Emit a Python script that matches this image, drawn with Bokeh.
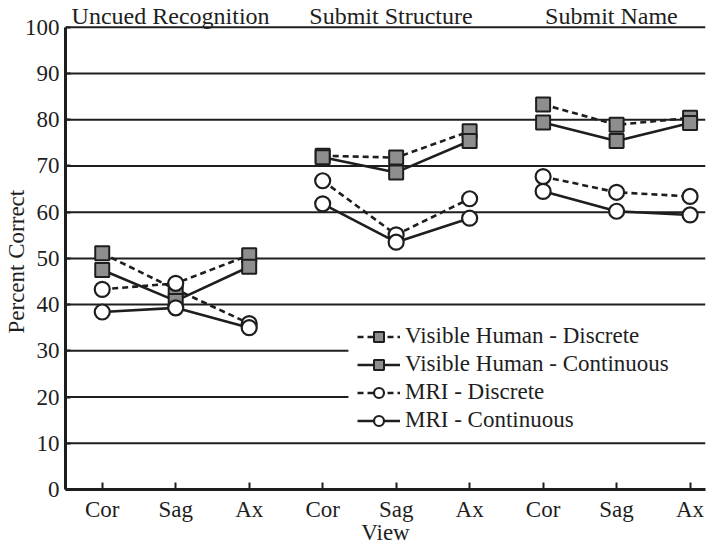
from bokeh.plotting import figure
from bokeh.models import Range1d, FixedTicker, Legend, LegendItem, Title
from bokeh.core.properties import value
from bokeh.embed import file_html
from bokeh.resources import INLINE

# ---- data ----
views = ["Cor", "Sag", "Ax", "Cor", "Sag", "Ax", "Cor", "Sag", "Ax"]
groups = ["Uncued Recognition", "Submit Structure", "Submit Name"]
vh_disc = [51.1, 43.3, 50.7, 72.2, 71.8, 77.5, 83.3, 78.9, 80.4]
vh_cont = [47.5, 40.8, 48.2, 71.9, 68.6, 75.4, 79.4, 75.4, 79.3]
mri_disc = [43.3, 44.6, 35.9, 66.8, 55.1, 62.9, 67.7, 64.3, 63.4]
mri_cont = [38.4, 39.3, 35.0, 61.8, 53.5, 58.7, 64.5, 60.2, 59.4]
y_ticks = [0, 10, 20, 30, 40, 50, 60, 70, 80, 90, 100]

FONT = "Liberation Serif"
INK = "#1e1e1e"
xpos = list(range(1, len(views) + 1))
X0, X1 = 0.5, 9.21
PX = 73.5  # pixels per x unit (frame 640 px wide)


def broken(vals):
    xs, ys = [], []
    for g in range(3):
        xs += xpos[g * 3:g * 3 + 3] + [float("nan")]
        ys += vals[g * 3:g * 3 + 3] + [float("nan")]
    return xs[:-1], ys[:-1]


# in the original figure the two dashed lines of the first panel cross over at "Ax"
vh_disc_line = [vh_disc[0], vh_disc[1], mri_disc[2]] + vh_disc[3:]
mri_disc_line = [mri_disc[0], mri_disc[1], vh_disc[2]] + mri_disc[3:]

p = figure(width=706, height=547, output_backend="svg", toolbar_location=None,
           x_range=Range1d(X0, X1), y_range=Range1d(0, 105.79),
           min_border_left=65, min_border_right=1, min_border_top=0, min_border_bottom=54)
p.outline_line_color = None
p.xgrid.visible = False
p.ygrid.visible = False

# grid lines (the legend hides the right part of 20 and 30)
GRID_CUT = 283  # px from frame left
legend_left = X0 + GRID_CUT / PX
gx1 = [legend_left if t in (20, 30) else X1 for t in y_ticks[1:]]
p.segment(x0=[X0] * len(gx1), x1=gx1, y0=y_ticks[1:], y1=y_ticks[1:],
          line_color=INK, line_width=2)

# lines
r_l1 = p.line(*broken(vh_disc_line), line_color=INK, line_width=2.6, line_dash="6 4")
r_l2 = p.line(*broken(vh_cont), line_color=INK, line_width=2.6)
r_l3 = p.line(*broken(mri_disc_line), line_color=INK, line_width=2.6, line_dash="6 4")
r_l4 = p.line(*broken(mri_cont), line_color=INK, line_width=2.6)

# markers
r_m1 = p.scatter(xpos, vh_disc, marker="square", size=14, fill_color="#8e8e8e",
                 line_color=INK, line_width=2)
r_m2 = p.scatter(xpos, vh_cont, marker="square", size=14, fill_color="#8e8e8e",
                 line_color=INK, line_width=2)
r_m3 = p.scatter(xpos, mri_disc, marker="circle", size=15, fill_color="white",
                 line_color=INK, line_width=2.2)
r_m4 = p.scatter(xpos, mri_cont, marker="circle", size=15, fill_color="white",
                 line_color=INK, line_width=2.2)

# panel titles (just above the 100 line)
p.text(x=[x - 0.07 for x in (2, 5, 8)], y=[99.6] * 3, text=groups, text_font=value(FONT),
       text_font_size="24px", text_align="center", text_baseline="bottom",
       text_color=INK)

# axes
p.xaxis.ticker = FixedTicker(ticks=xpos)
p.xaxis.major_label_overrides = {x: v for x, v in zip(xpos, views)}
p.xaxis.axis_label = "View"
p.yaxis.ticker = FixedTicker(ticks=y_ticks)
p.yaxis.bounds = (0, 100)
for ax in (p.xaxis[0], p.yaxis[0]):
    ax.axis_line_width = 3
    ax.axis_line_color = INK
    ax.major_tick_line_width = 2
    ax.major_tick_line_color = INK
    ax.major_tick_out = 0
    ax.minor_tick_line_color = None
    ax.major_label_text_font = FONT
    ax.major_label_text_font_size = "23px"
    ax.major_label_text_color = INK
    ax.axis_label_text_font = FONT
    ax.axis_label_text_font_size = "23px"
    ax.axis_label_text_font_style = "normal"
    ax.axis_label_text_color = INK
p.xaxis.major_tick_in = 7
p.yaxis.major_tick_in = 5
p.xaxis.major_label_standoff = 7
p.xaxis.axis_label_standoff = -5
p.yaxis.major_label_standoff = 6

# y-axis title, placed in the left panel (starts level with ~33 on the axis)
p.add_layout(Title(text="Percent Correct", align="left", offset=156, standoff=-14,
                   text_font=FONT, text_font_size="23px", text_font_style="normal",
                   text_color=INK), "left")

legend = Legend(items=[
    LegendItem(label="Visible Human - Discrete", renderers=[r_l1, r_m1]),
    LegendItem(label="Visible Human - Continuous", renderers=[r_l2, r_m2]),
    LegendItem(label="MRI - Discrete", renderers=[r_l3, r_m3]),
    LegendItem(label="MRI - Continuous", renderers=[r_l4, r_m4]),
], location=(292, 56))
legend.border_line_color = None
legend.background_fill_color = "white"
legend.background_fill_alpha = 1.0
legend.label_text_font = FONT
legend.label_text_font_size = "23px"
legend.label_text_color = INK
legend.glyph_width = 43
legend.glyph_height = 25
legend.label_height = 25
legend.label_standoff = 5
legend.spacing = 2
legend.padding = 8
legend.margin = 0
p.add_layout(legend)

open("out.html", "w").write(file_html(p, INLINE))
